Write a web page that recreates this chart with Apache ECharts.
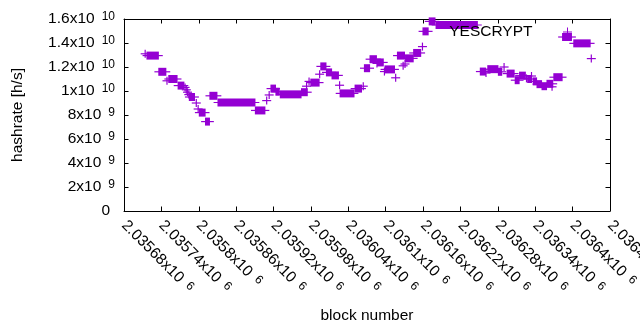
<!DOCTYPE html>
<html>
<head>
<meta charset="utf-8">
<script src="https://cdn.jsdelivr.net/npm/echarts@6/dist/echarts.min.js"></script>
<style>
  html, body { margin: 0; padding: 0; background: #ffffff; }
  #chart { width: 640px; height: 330px; }
</style>
</head>
<body>
<div id="chart"></div>
<script>
// runs of blocks sharing the same hashrate (a single block when start == end)
const runStart = [
  2035714, 2035717, 2035736, 2035749, 2035752, 2035767, 2035778, 2035780, 2035782, 2035784,
  2035785, 2035796, 2035799, 2035801, 2035811, 2035818, 2035831, 2035891, 2035909, 2035913,
  2035916, 2035924, 2035931, 2035965, 2035973, 2035977, 2035980, 2035994, 2035996, 2036005,
  2036014, 2036026, 2036027, 2036051, 2036064, 2036066, 2036075, 2036086, 2036087, 2036098,
  2036099, 2036116, 2036119, 2036128, 2036131, 2036132, 2036145, 2036159, 2036160, 2036170,
  2036181, 2036252, 2036261, 2036264, 2036281, 2036290, 2036295, 2036308, 2036315, 2036326,
  2036328, 2036334, 2036337, 2036343, 2036351, 2036359, 2036367, 2036370, 2036384, 2036402,
  2036430
];
const runEnd = [
  2035714, 2035735, 2035747, 2035749, 2035765, 2035776, 2035778, 2035780, 2035782, 2035784,
  2035793, 2035796, 2035799, 2035810, 2035817, 2035829, 2035890, 2035906, 2035909, 2035913,
  2035923, 2035929, 2035964, 2035974, 2035973, 2035977, 2035993, 2035994, 2036004, 2036013,
  2036024, 2036026, 2036049, 2036061, 2036064, 2036074, 2036085, 2036086, 2036096, 2036098,
  2036114, 2036116, 2036130, 2036128, 2036131, 2036144, 2036156, 2036159, 2036168, 2036179,
  2036247, 2036260, 2036261, 2036280, 2036286, 2036290, 2036306, 2036314, 2036324, 2036326,
  2036334, 2036334, 2036342, 2036350, 2036358, 2036368, 2036367, 2036383, 2036398, 2036428,
  2036430
];
const hashrate = [
  13.1e9, 12.95e9, 11.6e9, 10.85e9, 11.0e9, 10.45e9, 10.3e9, 10.1e9, 9.9e9, 9.7e9,
  9.5e9, 9.0e9, 8.5e9, 8.2e9, 7.45e9, 9.6e9, 9.04e9, 8.38e9, 9.2e9, 9.67e9,
  10.2e9, 9.94e9, 9.72e9, 9.9e9, 10.4e9, 10.8e9, 10.7e9, 11.4e9, 12.05e9, 11.55e9,
  11.3e9, 10.48e9, 9.8e9, 10.2e9, 10.4e9, 11.9e9, 12.65e9, 12.3e9, 12.38e9, 11.62e9,
  11.8e9, 11.1e9, 12.95e9, 12.1e9, 12.25e9, 12.72e9, 13.17e9, 13.7e9, 14.97e9, 15.8e9,
  15.5e9, 11.62e9, 11.5e9, 11.82e9, 11.6e9, 12.0e9, 11.45e9, 10.9e9, 11.28e9, 11.05e9,
  11.0e9, 11.25e9, 10.8e9, 10.57e9, 10.4e9, 10.6e9, 10.35e9, 11.15e9, 14.5e9, 13.97e9,
  12.7e9
];

const seriesName = "YESCRYPT";
const xMin = 2035680;
const xMax = 2036460;
const xStep = 60;

const FONT = "'Liberation Sans', Arial, sans-serif";
const COLOR = "#9400d3";
const PLUS = "path://M4,0h1v4h4v1h-4v4h-1v-4h-4v-1h4z";

const runs = runStart.map((s, i) => [s, runEnd[i], hashrate[i]]);

// gnuplot style "1.2x10^{10}"
function sci(v, digits) {
    if (v === 0) return "{z|0}";
    const e = Math.floor(Math.log10(Math.abs(v)) + 1e-9);
    const m = parseFloat((v / Math.pow(10, e)).toPrecision(digits));
    return "{b|" + m + "x10}{s|" + e + "}";
}

const rich = {
    b: { fontSize: 15.5, lineHeight: 16, verticalAlign: "bottom", color: "#000", fontFamily: FONT },
    s: { fontSize: 12, lineHeight: 12, verticalAlign: "top", padding: [0, 0, 8, 7], color: "#000", fontFamily: FONT },
    z: { fontSize: 15.5, lineHeight: 16, color: "#000", fontFamily: FONT, padding: [0, 5, 0, 0] },
};

const chart = echarts.init(document.getElementById("chart"), null, { renderer: "canvas" });

const frameLine = { show: true, onZero: false, lineStyle: { color: "#000", width: 1 } };
const tick = { show: true, inside: true, length: 4.5, lineStyle: { color: "#000", width: 1 } };

const option = {
    animation: false,
    backgroundColor: "#ffffff",
    grid: { left: 124, right: 30, top: 19, bottom: 119, outerBoundsMode: "none", containLabel: false },
    legend: {
        right: 68,
        top: 24,
        padding: 0,
        align: "right",
        itemWidth: 60,
        itemHeight: 9,
        selectedMode: false,
        textStyle: { fontSize: 15.5, color: "#000", fontFamily: FONT },
        data: [{ name: seriesName, icon: PLUS }],
    },
    xAxis: [
        {
            type: "value",
            min: xMin,
            max: xMax,
            interval: xStep,
            name: "block number",
            nameLocation: "middle",
            nameGap: 97,
            nameTextStyle: { fontSize: 15.5, color: "#000", fontFamily: FONT },
            axisLine: frameLine,
            axisTick: tick,
            splitLine: { show: false },
            axisLabel: {
                rotate: -45,
                margin: 12,
                hideOverlap: false,
                showMinLabel: true,
                showMaxLabel: true,
                formatter: (v) => sci(v, 7),
                rich,
            },
        },
        {
            type: "value",
            position: "top",
            min: xMin,
            max: xMax,
            interval: xStep,
            axisLine: frameLine,
            axisTick: tick,
            axisLabel: { show: false },
            splitLine: { show: false },
        },
    ],
    yAxis: [
        {
            type: "value",
            min: 0,
            max: 1.6e10,
            interval: 2e9,
            name: "hashrate [h/s]",
            nameLocation: "middle",
            nameGap: 98,
            nameTextStyle: { fontSize: 15.5, color: "#000", fontFamily: FONT },
            axisLine: frameLine,
            axisTick: tick,
            splitLine: { show: false },
            axisLabel: { margin: 9, formatter: (v) => sci(v, 4), rich },
        },
        {
            type: "value",
            position: "right",
            min: 0,
            max: 1.6e10,
            interval: 2e9,
            axisLine: frameLine,
            axisTick: tick,
            axisLabel: { show: false },
            splitLine: { show: false },
        },
    ],
    series: [
        {
            name: seriesName,
            type: "custom",
            xAxisIndex: 0,
            yAxisIndex: 0,
            clip: false,
            itemStyle: { color: COLOR },
            encode: { x: [0, 1], y: 2 },
            data: runs,
            renderItem: function (params, api) {
                const a = api.coord([api.value(0), api.value(2)]);
                const b = api.coord([api.value(1), api.value(2)]);
                return {
                    type: "group",
                    children: [
                        {
                            type: "rect",
                            shape: { x: a[0] - 0.6, y: a[1] - 4, width: b[0] - a[0] + 1.2, height: 8 },
                            style: { fill: COLOR },
                        },
                        {
                            type: "line",
                            shape: { x1: a[0] - 4.5, y1: a[1], x2: b[0] + 4.5, y2: a[1] },
                            style: { stroke: COLOR, lineWidth: 1.2 },
                        },
                    ],
                };
            },
        },
    ],
};

chart.setOption(option);
</script>
</body>
</html>
